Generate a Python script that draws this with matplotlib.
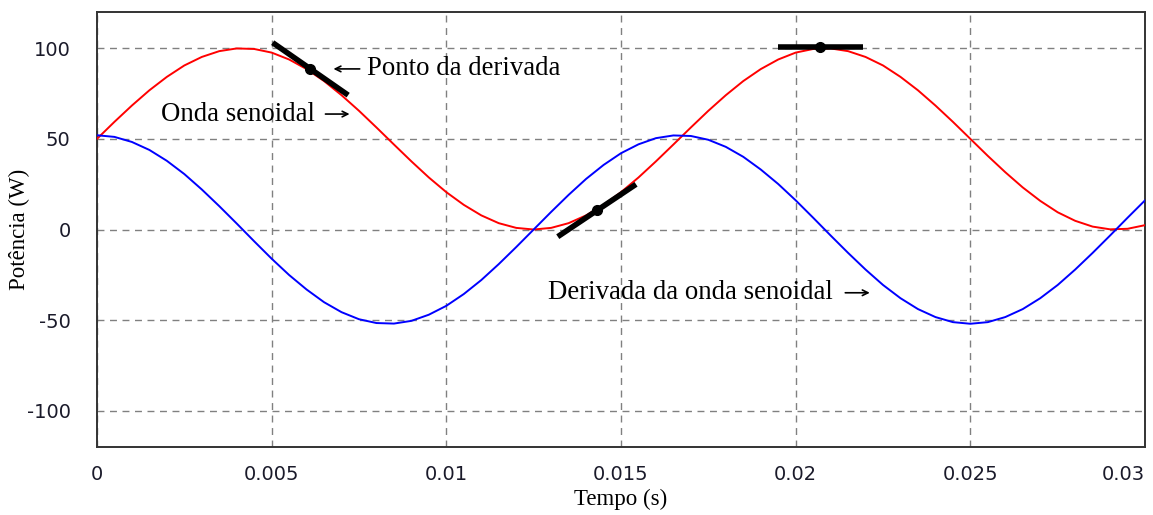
import numpy as np
import matplotlib
matplotlib.use("Agg")
import matplotlib.pyplot as plt

plt.rcParams["axes.unicode_minus"] = False

# time axis (s), sampled every 0.5 ms
tempo = np.arange(61) * 0.0005

# sine wave (W)
onda = [50.0, 59.4, 68.4, 76.8, 84.2, 90.5, 95.2, 98.4, 99.9, 99.6,
        97.6, 93.8, 88.5, 81.9, 74.1, 65.5, 56.3, 46.9, 37.6, 28.7,
        20.6, 13.6, 7.8, 3.5, 0.9, 0.0, 0.9, 3.5, 7.8, 13.6,
        20.6, 28.7, 37.6, 46.9, 56.3, 65.5, 74.1, 81.9, 88.5, 93.8,
        97.6, 99.6, 99.9, 98.4, 95.2, 90.5, 84.2, 76.8, 68.4, 59.4,
        50.0, 40.6, 31.6, 23.2, 15.8, 9.5, 4.8, 1.6, 0.1, 0.4, 2.4]

# derivative
derivada = [52.0, 51.1, 48.3, 43.9, 37.9, 30.6, 22.1, 12.9, 3.3, -6.5,
            -16.1, -25.1, -33.1, -40.1, -45.6, -49.5, -51.6, -51.9, -50.4, -47.0,
            -42.1, -35.6, -27.9, -19.1, -9.7, 0.0, 9.7, 19.1, 27.9, 35.6,
            42.1, 47.0, 50.4, 51.9, 51.6, 49.5, 45.6, 40.1, 33.1, 25.1,
            16.1, 6.5, -3.3, -12.9, -22.1, -30.6, -37.9, -43.9, -48.3, -51.1,
            -52.0, -51.1, -48.3, -43.9, -37.9, -30.6, -22.1, -12.9, -3.3, 6.5, 16.1]

# tangent points (time, value, slope in W/s, half length in s)
tan_t = [0.00611, 0.01431, 0.02071]
tan_y = [88.6, 10.5, 100.8]
tan_slope = [-13400.0, 12900.0, 0.0]
tan_half = [0.00108, 0.00112, 0.00123]

xticks = [0, 0.005, 0.01, 0.015, 0.02, 0.025, 0.03]
xtick_labels = ["0", "0.005", "0.01", "0.015", "0.02", "0.025", "0.03"]
yticks = [-100, -50, 0, 50, 100]

fig = plt.figure(figsize=(11.53, 5.15), dpi=100)
ax = fig.add_axes([0.0841, 0.132, 0.9090, 0.8447])

ax.plot(tempo, onda, color="#ff0000", lw=1.4, zorder=3)
ax.plot(tempo, derivada, color="#0000ff", lw=1.4, zorder=3)

for t0, y0, m, h in zip(tan_t, tan_y, tan_slope, tan_half):
    ax.plot([t0 - h, t0 + h], [y0 - m * h, y0 + m * h], color="black",
            lw=4, solid_capstyle="butt", zorder=4)
    ax.plot(t0, y0, "o", color="black", ms=7, zorder=5)

ax.set_xlim(0, 0.03)
ax.set_ylim(-120, 120)
ax.set_xticks(xticks)
ax.set_xticklabels(xtick_labels)
ax.set_yticks(yticks)
ax.tick_params(length=0, labelsize=14, colors="#1a1a2a")
ax.tick_params(axis="x", pad=13)
ax.tick_params(axis="y", pad=19)
ax.get_xticklabels()[-1].set_ha("right")
ax.grid(True, color="#808080", ls=(0, (5, 4)), lw=1.0)
for s in ax.spines.values():
    s.set_color("#333333")
    s.set_linewidth(1.4)

serif = "Liberation Serif"
ax.set_xlabel("Tempo (s)", family=serif, fontsize=16.5)
ax.xaxis.set_label_coords(0.5, -0.095)
ax.set_ylabel("Potência (W)", family=serif, fontsize=16.5)
ax.yaxis.set_label_coords(-0.064, 0.5)

fs = 19.3
arrow = dict(arrowstyle="->", color="black", lw=1.2)
ax.annotate("", xy=(0.00669, 88.6), xytext=(0.0076, 88.6), arrowprops=arrow)
ax.text(0.00774, 88.6, "Ponto da derivada", family=serif, fontsize=fs, va="center")
ax.text(0.00183, 63.7, "Onda senoidal", family=serif, fontsize=fs, va="center")
ax.annotate("", xy=(0.00731, 63.7), xytext=(0.00646, 63.7), arrowprops=arrow)
ax.text(0.01291, -34.9, "Derivada da onda senoidal", family=serif, fontsize=fs, va="center")
ax.annotate("", xy=(0.0222, -34.9), xytext=(0.02134, -34.9), arrowprops=arrow)

fig.savefig("out.png", dpi=100)
